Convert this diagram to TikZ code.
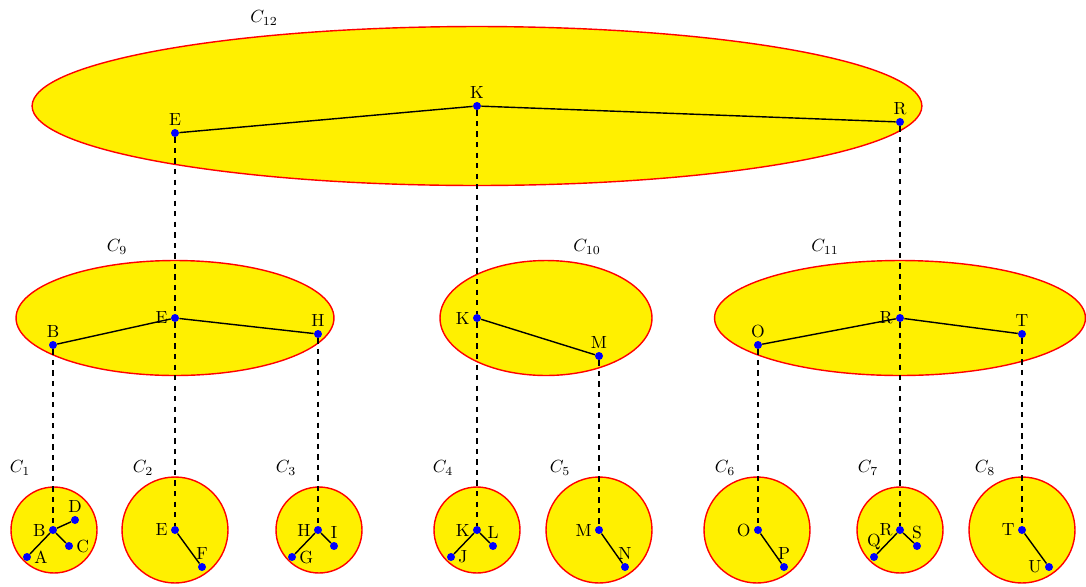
\documentclass[tikz,border=0pt]{standalone}
\usetikzlibrary{positioning,shapes.geometric}
\definecolor{clusyellow}{RGB}{255,240,0}
\begin{document}
\begin{tikzpicture}[
  x=0.02cm, y=-0.02cm,
  clus/.style={draw=red, thick, fill=clusyellow, inner sep=0pt},
  bigclus/.style={clus, ellipse, minimum height=2.3cm},
  smallclus/.style={clus, circle, minimum size=1.72cm},
  wideclus/.style={clus, circle, minimum size=2.12cm},
  vtx/.style={circle, fill=blue, inner sep=0pt, minimum size=1.6mm},
  tree/.style={thick},
  link/.style={thick, dashed},
  every label/.style={inner sep=1.5pt},
  clbl/.style={inner sep=1pt},
]
 \useasboundingbox (0,0) rectangle (1086,586);

 % Clusters
 \node[clus, ellipse, minimum width=17.8cm, minimum height=3.18cm] (C12) at (477,106) {};
 \node[bigclus, minimum width=6.36cm] (C9) at (175,318) {};
 \node[bigclus, minimum width=4.24cm] (C10) at (546,318) {};
 \node[bigclus, minimum width=7.42cm] (C11) at (900,318) {};
 \node[smallclus] (C1) at (54,530) {};
 \node[wideclus] (C2) at (175,530) {};
 \node[smallclus] (C3) at (319,530) {};
 \node[smallclus] (C4) at (477,530) {};
 \node[wideclus] (C5) at (599,530) {};
 \node[wideclus] (C6) at (757,530) {};
 \node[smallclus] (C7) at (900,530) {};
 \node[wideclus] (C8) at (1022,530) {};

 % Cluster names
 \node[clbl] at (264,18) {$C_{12}$};
 \node[clbl] at (117,247) {$C_{9}$};
 \node[clbl] at (587,247) {$C_{10}$};
 \node[clbl] at (825,247) {$C_{11}$};
 \node[clbl] at (20,468) {$C_{1}$};
 \node[clbl] at (143,468) {$C_{2}$};
 \node[clbl] at (286,468) {$C_{3}$};
 \node[clbl] at (443,468) {$C_{4}$};
 \node[clbl] at (560,468) {$C_{5}$};
 \node[clbl] at (725,468) {$C_{6}$};
 \node[clbl] at (868,468) {$C_{7}$};
 \node[clbl] at (985,468) {$C_{8}$};

 % Top level
 \node[vtx, label=above:E] (E12) at (175,133) {};
 \node[vtx, label=above:K] (K12) at (477,106) {};
 \node[vtx, label=above:R] (R12) at (900,122) {};
 \draw[tree] (E12) -- (K12) -- (R12);

 % Middle level
 \node[vtx, label=above:B] (B9) at (53,345) {};
 \node[vtx, label=left:E] (E9) at (175,318) {};
 \node[vtx, label=above:H] (H9) at (318,334) {};
 \node[vtx, label=left:K] (K10) at (477,318) {};
 \node[vtx, label=above:M] (M10) at (599,356) {};
 \node[vtx, label=above:O] (O11) at (758,345) {};
 \node[vtx, label=left:R] (R11) at (900,318) {};
 \node[vtx, label=above:T] (T11) at (1022,334) {};
 \draw[tree] (B9) -- (E9) -- (H9);
 \draw[tree] (K10) -- (M10);
 \draw[tree] (O11) -- (R11) -- (T11);

 % Bottom level
 \node[vtx, label=left:B] (B1) at (53,530) {};
 \node[vtx, label=right:A] (A1) at (27,557) {};
 \node[vtx, label=right:C] (Cc1) at (69,546) {};
 \node[vtx, label=above:D] (D1) at (75,520) {};
 \draw[tree] (A1) -- (B1) -- (Cc1);
 \draw[tree] (B1) -- (D1);

 \node[vtx, label=left:E] (E2) at (175,530) {};
 \node[vtx, label=above:F] (F2) at (202,567) {};
 \draw[tree] (E2) -- (F2);

 \node[vtx, label=left:H] (H3) at (318,530) {};
 \node[vtx, label=right:G] (G3) at (292,557) {};
 \node[vtx, label=above:I] (I3) at (334,546) {};
 \draw[tree] (G3) -- (H3) -- (I3);

 \node[vtx, label=left:K] (K4) at (477,530) {};
 \node[vtx, label=right:J] (J4) at (451,557) {};
 \node[vtx, label=above:L] (L4) at (493,546) {};
 \draw[tree] (J4) -- (K4) -- (L4);

 \node[vtx, label=left:M] (M5) at (599,530) {};
 \node[vtx, label=above:N] (N5) at (625,567) {};
 \draw[tree] (M5) -- (N5);

 \node[vtx, label=left:O] (O6) at (758,530) {};
 \node[vtx, label=above:P] (P6) at (784,567) {};
 \draw[tree] (O6) -- (P6);

 \node[vtx, label=left:R] (R7) at (900,530) {};
 \node[vtx, label=above:Q] (Q7) at (874,557) {};
 \node[vtx, label=above:S] (S7) at (917,546) {};
 \draw[tree] (Q7) -- (R7) -- (S7);

 \node[vtx, label=left:T] (T8) at (1022,530) {};
 \node[vtx, label=left:U] (U8) at (1049,567) {};
 \draw[tree] (T8) -- (U8);

 % Links between levels
 \draw[link] (E12) -- (E9) -- (E2);
 \draw[link] (K12) -- (K10) -- (K4);
 \draw[link] (R12) -- (R11) -- (R7);
 \draw[link] (B9) -- (B1);
 \draw[link] (H9) -- (H3);
 \draw[link] (M10) -- (M5);
 \draw[link] (O11) -- (O6);
 \draw[link] (T11) -- (T8);
\end{tikzpicture}
\end{document}
